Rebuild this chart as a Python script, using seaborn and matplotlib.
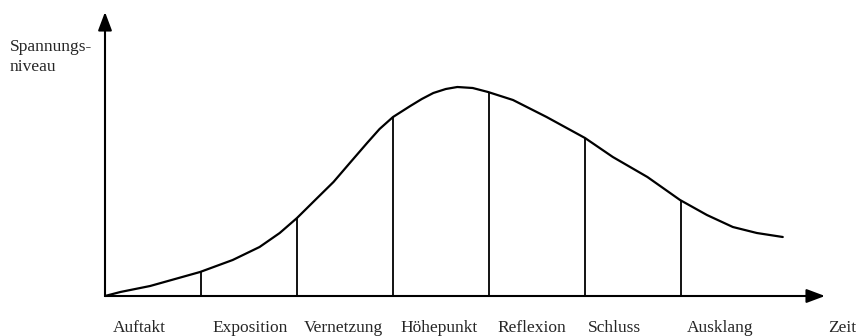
import matplotlib
matplotlib.use("Agg")
import matplotlib.pyplot as plt
import seaborn as sns

# tension curve (x in phases, y = tension level)
curve_x = [0, 0.16, 0.47, 0.99, 1.33, 1.61, 1.82, 2.0, 2.2, 2.38, 2.55, 2.73,
           2.86, 3.0, 3.18, 3.3, 3.42, 3.55, 3.67, 3.83, 3.99, 4.25, 4.6, 5.0,
           5.29, 5.65, 5.99, 6.27, 6.54, 6.79, 7.06]
curve_y = [0, 4, 10, 24, 36, 49, 63, 78, 97, 114, 133, 153,
           167, 179, 190, 197, 203, 207, 209, 208, 204, 196, 179, 158,
           139, 119, 96, 81, 69, 63, 59]

# phase boundaries and the height of each divider
boundary_x = [1, 2, 3, 4, 5, 6]
boundary_y = [24, 78, 179, 204, 158, 96]

phases = ["Auftakt", "Exposition", "Vernetzung", "Höhepunkt",
          "Reflexion", "Schluss", "Ausklang", "Zeit"]
phase_label_x = [0.36, 1.51, 2.48, 3.48, 4.45, 5.31, 6.41, 7.68]

sns.set_theme(style="white")
plt.rcParams["font.family"] = ["Liberation Serif", "DejaVu Serif"]

fig = plt.figure(figsize=(8.59, 3.36), dpi=100)
ax = fig.add_axes([0, 0, 1, 1])
ax.set_xlim(-105 / 96, 754 / 96)
ax.set_ylim(-40, 296)
ax.axis("off")

sns.lineplot(x=curve_x, y=curve_y, sort=False, color="black", lw=1.6, ax=ax)
ax.vlines(boundary_x, 0, boundary_y, color="black", lw=1.3)

# axes with arrow heads
arrow = dict(arrowstyle="-|>,head_length=0.8,head_width=0.3", mutation_scale=14,
             lw=1.5, color="black", shrinkA=0, shrinkB=0)
ax.annotate("", xy=(0, 284), xytext=(0, 0), arrowprops=arrow)
ax.annotate("", xy=(7.5, 0), xytext=(0, 0), arrowprops=arrow)

for name, x in zip(phases, phase_label_x):
    ax.text(x, -36, name, ha="center", va="baseline", fontsize=12.5)

ax.text(-0.99, 245, "Spannungs-", ha="left", va="baseline", fontsize=12.5)
ax.text(-0.99, 225, "niveau", ha="left", va="baseline", fontsize=12.5)

fig.savefig("out.png", dpi=100, facecolor="white")
